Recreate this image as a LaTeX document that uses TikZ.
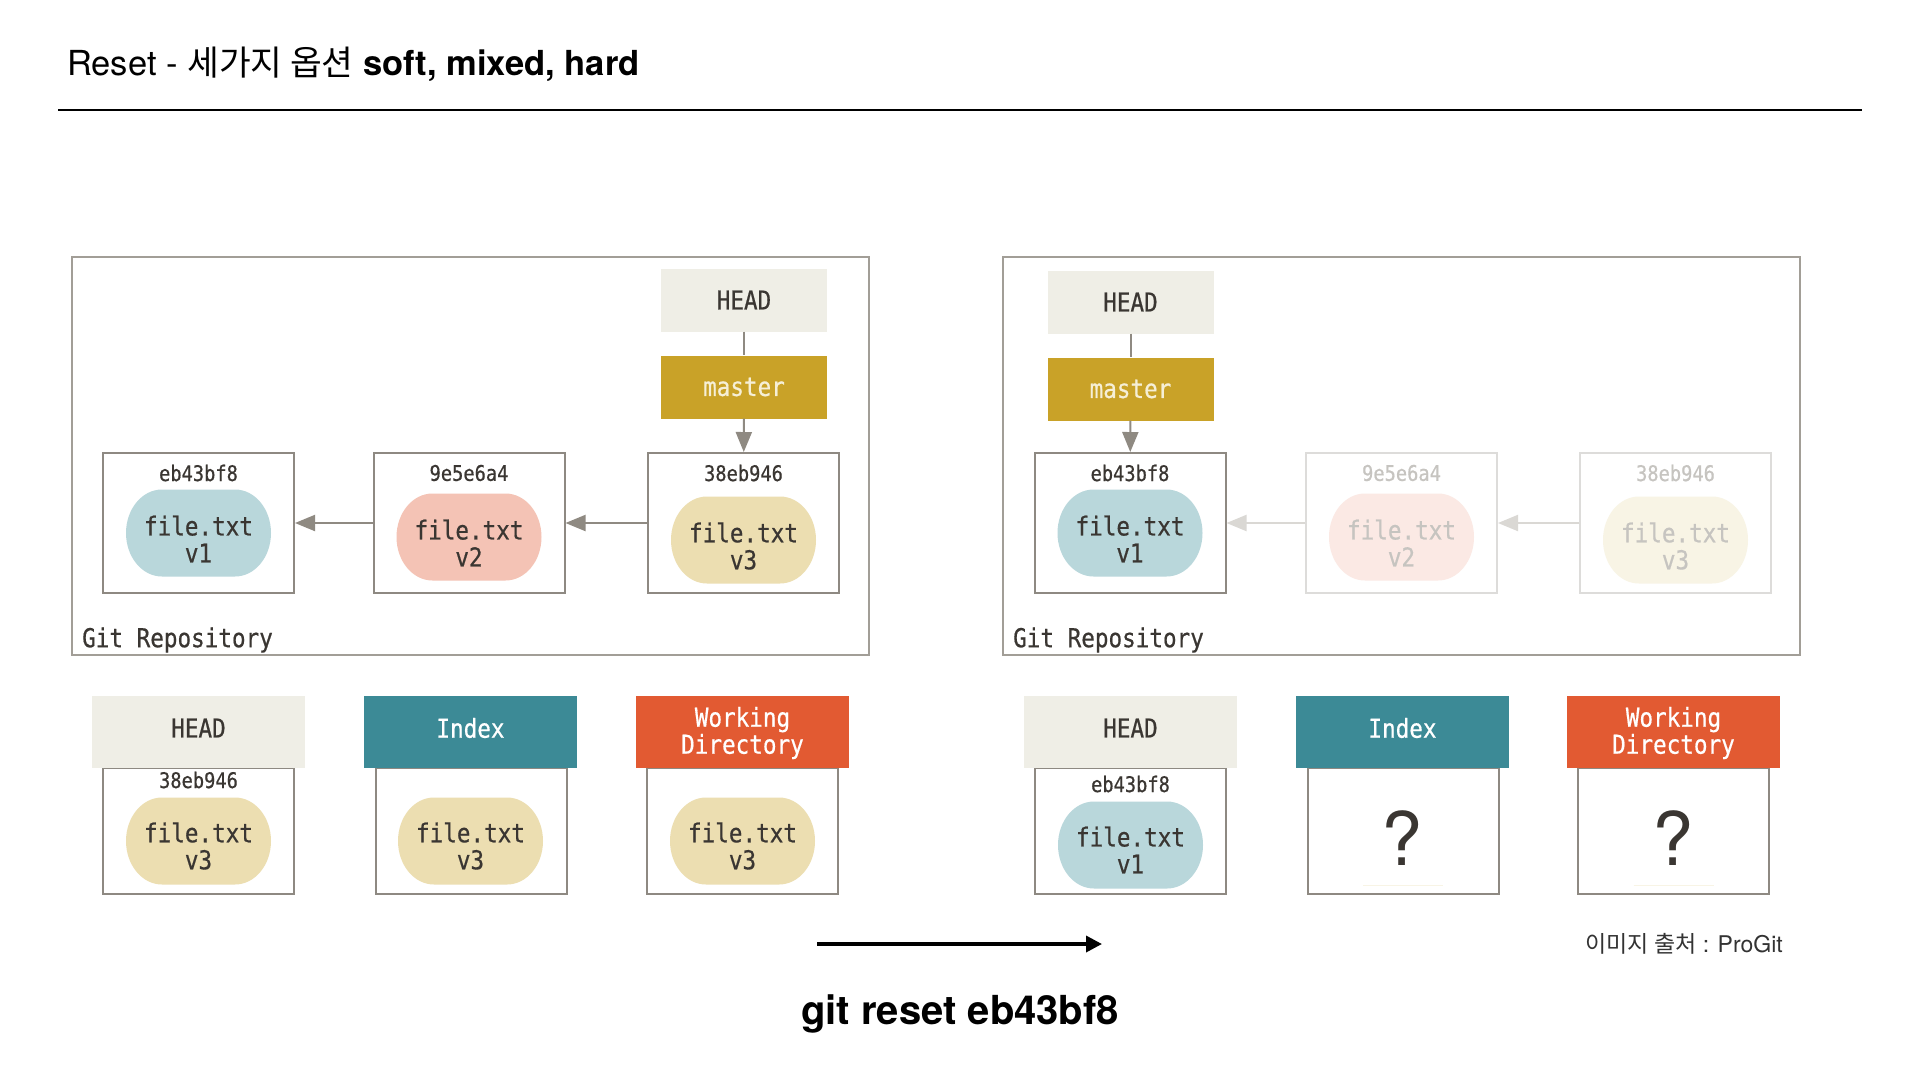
\documentclass[tikz,border=0pt]{standalone}
\usepackage{fontspec}
\setmainfont{TeX Gyre Heros}
\newfontfamily\kr{Noto Sans CJK KR}
\newfontfamily\mono[FakeStretch=0.87,FakeBold=0.6]{DejaVu Sans Mono}
\usetikzlibrary{arrows.meta}
\definecolor{framegray}{HTML}{A29E97}
\definecolor{boxgray}{HTML}{8E8982}
\definecolor{arrgray}{HTML}{8F8A82}
\definecolor{txt}{HTML}{3A3632}
\definecolor{headfill}{HTML}{EFEEE6}
\definecolor{masterfill}{HTML}{C9A228}
\definecolor{mastertxt}{HTML}{F6EFD6}
\definecolor{indexfill}{HTML}{3C8A96}
\definecolor{wdfill}{HTML}{E25A32}
\definecolor{vone}{HTML}{B9D7DB}
\definecolor{vtwo}{HTML}{F4C3B5}
\definecolor{vthree}{HTML}{ECDEB1}
\definecolor{fadetwo}{HTML}{FBE9E4}
\definecolor{fadethree}{HTML}{F8F4E5}
\definecolor{fadebox}{HTML}{DDDCDA}
\definecolor{fadetxt}{HTML}{C6C4C0}
\definecolor{fadearr}{HTML}{DAD8D4}
\tikzset{
  repo/.style={draw=framegray, line width=2pt, minimum width=797pt, minimum height=398pt, inner sep=0},
  commit/.style={draw=boxgray, line width=2pt, minimum width=191pt, minimum height=140pt, inner sep=0},
  fcommit/.style={commit, draw=fadebox},
  slot/.style={draw=boxgray, line width=2pt, minimum width=191pt, minimum height=126pt, inner sep=0},
  blobtxt/.style={inner sep=0, align=center, font=\mono\fontsize{26}{27}\selectfont, text=txt},
  hash/.style={font=\mono\fontsize{21.5}{24}\selectfont, text=txt, inner sep=0},
  monolab/.style={font=\mono\fontsize{26}{27}\selectfont, text=txt, inner sep=0},
  refbox/.style={minimum width=166pt, minimum height=63pt, inner sep=0, font=\mono\fontsize{26}{27}\selectfont},
  headref/.style={refbox, fill=headfill, text=txt},
  masterref/.style={refbox, fill=masterfill, text=mastertxt},
  hdr/.style={minimum width=213pt, minimum height=72pt, inner sep=0},
  hdrtxt/.style={inner sep=0, align=center, font=\mono\fontsize{26}{27}\selectfont},
  arr/.style={draw=arrgray, line width=2pt, -{Triangle[length=20pt,width=16pt]}},
  farr/.style={draw=fadearr, line width=2pt, -{Triangle[length=20pt,width=16pt]}},
  qmark/.style={font=\fontsize{74}{74}\selectfont, text=txt, inner sep=0},
}
% blob outline: elliptical corners, 145 x 87 px
\newcommand{\blobshape}[2]{%
  \fill[#2] (#1) ++(-36.5pt,43.5pt) -- ++(73pt,0pt)
    arc[start angle=90, end angle=0, x radius=36pt, y radius=43.5pt]
    arc[start angle=0, end angle=-90, x radius=36pt, y radius=43.5pt]
    -- ++(-73pt,0pt)
    arc[start angle=270, end angle=180, x radius=36pt, y radius=43.5pt]
    arc[start angle=180, end angle=90, x radius=36pt, y radius=43.5pt] -- cycle;}
\begin{document}
\begin{tikzpicture}[x=1pt,y=-1pt]
\useasboundingbox (0,0) rectangle (1920,1080);
\fill[white] (0,0) rectangle (1920,1080);

% title
\node[anchor=west, inner sep=0, text=black, font=\fontsize{34.5}{38}\selectfont] (title) at (67,64)
  {Reset - {\kr 세가지 옵션} \textbf{soft, mixed, hard}};
\coordinate (ruleL) at (58,110);
\coordinate (ruleR) at (1862,110);
\draw[line width=2pt, black] (ruleL) -- (ruleR);

% ===== left repository =====
\node[repo] (repoL) at (470.5,456) {};
\node[monolab, anchor=west] (gitL) at (82,640) {Git Repository};
\node[headref] (headL) at (744,300) {HEAD};
\node[masterref] (masterL) at (744,387) {master};
\node[commit] (a1) at (198.5,523) {};
\node[commit] (a2) at (469,523) {};
\node[commit] (a3) at (743.5,523) {};
\node[hash] (a1h) at (198.5,473) {eb43bf8};
\node[hash] (a2h) at (469,473) {9e5e6a4};
\node[hash] (a3h) at (743.5,473) {38eb946};
\coordinate (a1c) at (198.5,533);
\coordinate (a2c) at (469,537);
\coordinate (a3c) at (743.5,540);
\blobshape{a1c}{vone}
\blobshape{a2c}{vtwo}
\blobshape{a3c}{vthree}
\node[blobtxt] (a1b) at ([yshift=-6pt]a1c) {file.txt\\v1};
\node[blobtxt] (a2b) at ([yshift=-6pt]a2c) {file.txt\\v2};
\node[blobtxt] (a3b) at ([yshift=-6pt]a3c) {file.txt\\v3};
\draw[arrgray, line width=2pt] (headL) -- (masterL);
\draw[arr] (masterL) -- (a3);
\draw[arr] (a2) -- (a1);
\draw[arr] (a3) -- (a2);

% ===== right repository =====
\node[repo] (repoR) at (1401.5,456) {};
\node[monolab, anchor=west] (gitR) at (1013,640) {Git Repository};
\node[headref] (headR) at (1130.5,302) {HEAD};
\node[masterref] (masterR) at (1130.5,389) {master};
\node[commit] (b1) at (1130,523) {};
\node[fcommit] (b2) at (1401.5,523) {};
\node[fcommit] (b3) at (1675.5,523) {};
\node[hash] (b1h) at (1130,473) {eb43bf8};
\node[hash, text=fadetxt] (b2h) at (1401.5,473) {9e5e6a4};
\node[hash, text=fadetxt] (b3h) at (1675.5,473) {38eb946};
\coordinate (b1c) at (1130,533);
\coordinate (b2c) at (1401.5,537);
\coordinate (b3c) at (1675.5,540);
\blobshape{b1c}{vone}
\blobshape{b2c}{fadetwo}
\blobshape{b3c}{fadethree}
\node[blobtxt] (b1b) at ([yshift=-6pt]b1c) {file.txt\\v1};
\node[blobtxt, text=fadetxt] (b2b) at ([yshift=-6pt]b2c) {file.txt\\v2};
\node[blobtxt, text=fadetxt] (b3b) at ([yshift=-6pt]b3c) {file.txt\\v3};
\draw[arrgray, line width=2pt] (headR) -- (masterR);
\draw[arr] (masterR) -- (b1);
\draw[farr] (b2) -- (b1);
\draw[farr] (b3) -- (b2);

% ===== bottom left trees =====
\node[slot] (s1) at (198.5,831) {};
\node[slot] (s2) at (471.5,831) {};
\node[slot] (s3) at (742.5,831) {};
\node[hdr, fill=headfill] (h1) at (198.5,732) {};
\node[hdr, fill=indexfill] (h2) at (470.5,732) {};
\node[hdr, fill=wdfill] (h3) at (742.5,732) {};
\node[hdrtxt, text=txt] (h1t) at ([yshift=4pt]h1.center) {HEAD};
\node[hdrtxt, text=white] (h2t) at ([yshift=4pt]h2.center) {Index};
\node[hdrtxt, text=white] (h3t) at ([yshift=-1pt]h3.center) {Working\\Directory};
\node[hash] (s1h) at (198.5,780) {38eb946};
\coordinate (s1c) at (198.5,841);
\coordinate (s2c) at (470.5,841);
\coordinate (s3c) at (742.5,841);
\blobshape{s1c}{vthree}
\blobshape{s2c}{vthree}
\blobshape{s3c}{vthree}
\node[blobtxt] (s1b) at ([yshift=-5pt]s1c) {file.txt\\v3};
\node[blobtxt] (s2b) at ([yshift=-5pt]s2c) {file.txt\\v3};
\node[blobtxt] (s3b) at ([yshift=-5pt]s3c) {file.txt\\v3};

% ===== bottom right trees =====
\node[slot] (t1) at (1130,831) {};
\node[slot] (t2) at (1403,831) {};
\node[slot] (t3) at (1673.5,831) {};
\node[hdr, fill=headfill] (g1) at (1130.5,732) {};
\node[hdr, fill=indexfill] (g2) at (1402.5,732) {};
\node[hdr, fill=wdfill] (g3) at (1673.5,732) {};
\node[hdrtxt, text=txt] (g1t) at ([yshift=4pt]g1.center) {HEAD};
\node[hdrtxt, text=white] (g2t) at ([yshift=4pt]g2.center) {Index};
\node[hdrtxt, text=white] (g3t) at ([yshift=-1pt]g3.center) {Working\\Directory};
\node[hash] (t1h) at (1130.5,784) {eb43bf8};
\coordinate (t1c) at (1130.5,845);
\blobshape{t1c}{vone}
\node[blobtxt] (t1b) at ([yshift=-5pt]t1c) {file.txt\\v1};
\node[qmark] (q2) at (1402,838) {?};
\node[qmark] (q3) at (1673,838) {?};
\draw[fadethree, line width=1pt] ([xshift=-40pt,yshift=10pt]t2.south) -- ([xshift=40pt,yshift=10pt]t2.south);
\draw[fadethree, line width=1pt] ([xshift=-40pt,yshift=10pt]t3.south) -- ([xshift=40pt,yshift=10pt]t3.south);

% ===== command arrow and labels =====
\coordinate (cmdS) at (817,944);
\coordinate (cmdE) at (1102,944);
\draw[black, line width=3.5pt, -{Triangle[length=16pt,width=16pt]}] (cmdS) -- (cmdE);
\node[inner sep=0, font=\bfseries\fontsize{40}{44}\selectfont, text=black] (cmd) at (960,1014) {git reset eb43bf8};
\node[inner sep=0, anchor=east, font=\fontsize{23}{26}\selectfont, text=black!80] (credit) at (1783,944) {{\kr 이미지 출처} : ProGit};
\end{tikzpicture}
\end{document}
